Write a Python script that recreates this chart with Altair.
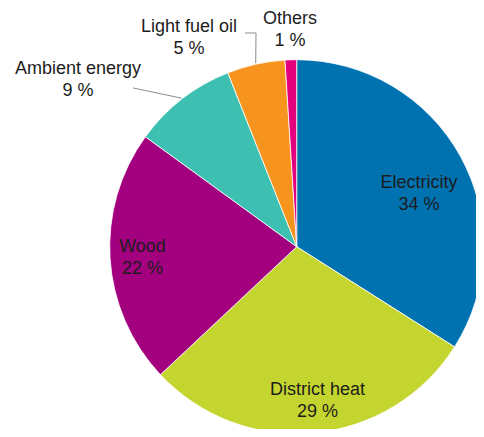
import math
import altair as alt
import pandas as pd

categories = ["Electricity", "District heat", "Wood", "Ambient energy", "Light fuel oil", "Others"]
shares = [34, 29, 22, 9, 5, 1]
colors = ["#0072b0", "#c5d530", "#a2007e", "#3dbfb2", "#f7941d", "#e4007c"]

df = pd.DataFrame({"cat": categories, "share": shares, "idx": list(range(len(categories)))})

W, H = 468, 421
CX, CY = 288.7, 238.7
R = 187
FONT = "Liberation Sans"
TEXT_SHIFT = -10  # multi-line block baseline correction

theta_scale = alt.Scale(domain=[0, 100])
base = alt.Chart(df)

pie = base.mark_arc(radius=R, stroke="white", strokeWidth=0.8).encode(
    theta=alt.Theta("share:Q", stack=True, scale=theta_scale),
    order=alt.Order("idx:Q"),
    color=alt.Color("cat:N", scale=alt.Scale(domain=categories, range=colors), legend=None),
    x=alt.value(CX),
    y=alt.value(CY),
)

# label radius and pixel nudges (layout only)
label_pos = {
    "Electricity": (130, 8.4, 8.5),
    "District heat": (150, 6.7, 3.5),
    "Wood": (150, -4.5, 0.9),
    "Ambient energy": (220, -83.8, 6.1),
    "Light fuel oil": (220, -59.7, 5.0),
    "Others": (220, 0.2, 2.0),
}

layers = [pie]

# leader lines computed from the data's slice mid angles
cum = 0
mids = {}
for c, s in zip(categories, shares):
    mids[c] = cum + s / 2
    cum += s
total = float(sum(shares))


def polar(cat, r):
    a = mids[cat] / total * 2 * math.pi
    return CX + r * math.sin(a), CY - r * math.cos(a)


def label_center(cat):
    r, dx, dy = label_pos[cat]
    x, y = polar(cat, r)
    return x + dx, y + dy


segs = []
sx, sy = polar("Ambient energy", R + 1)
lx, ly = label_center("Ambient energy")
segs.append((sx, sy, lx + 55, ly + 9))
sx, sy = polar("Light fuel oil", R + 1)
lx, ly = label_center("Light fuel oil")
segs.append((sx, sy, lx + 67, ly - 4))
segs.append((lx + 67, ly - 4, lx + 56, ly - 4))
lead_df = pd.DataFrame(segs, columns=["x1", "y1", "x2", "y2"])

leaders = alt.Chart(lead_df).mark_rule(color="#8c8c8c", strokeWidth=1).encode(
    x=alt.X("x1:Q", scale=None),
    y=alt.Y("y1:Q", scale=None),
    x2="x2:Q",
    y2="y2:Q",
)
layers.append(leaders)

for cat, (r, dx, dy) in label_pos.items():
    t = (
        base.transform_window(cum="sum(share)", sort=[alt.SortField("idx")], frame=[None, 0])
        .transform_calculate(mid="datum.cum - datum.share / 2",
                             label="datum.cat + '\\n' + datum.share + ' %'")
        .transform_filter(alt.datum.cat == cat)
        .mark_text(radius=r, dx=dx, dy=dy + TEXT_SHIFT, fontSize=18, font=FONT, lineBreak="\n",
                   lineHeight=22, color="#1c1c1c", align="center", baseline="middle")
        .encode(
            theta=alt.Theta("mid:Q", stack=False, scale=theta_scale),
            text="label:N",
            x=alt.value(CX),
            y=alt.value(CY),
        )
    )
    layers.append(t)

chart = alt.layer(*layers).properties(
    width=W, height=H, autosize=alt.AutoSizeParams(type="none"), padding=0
).configure_view(stroke=None)

chart.save("out.html", embed_options={"renderer": "svg", "actions": False})
